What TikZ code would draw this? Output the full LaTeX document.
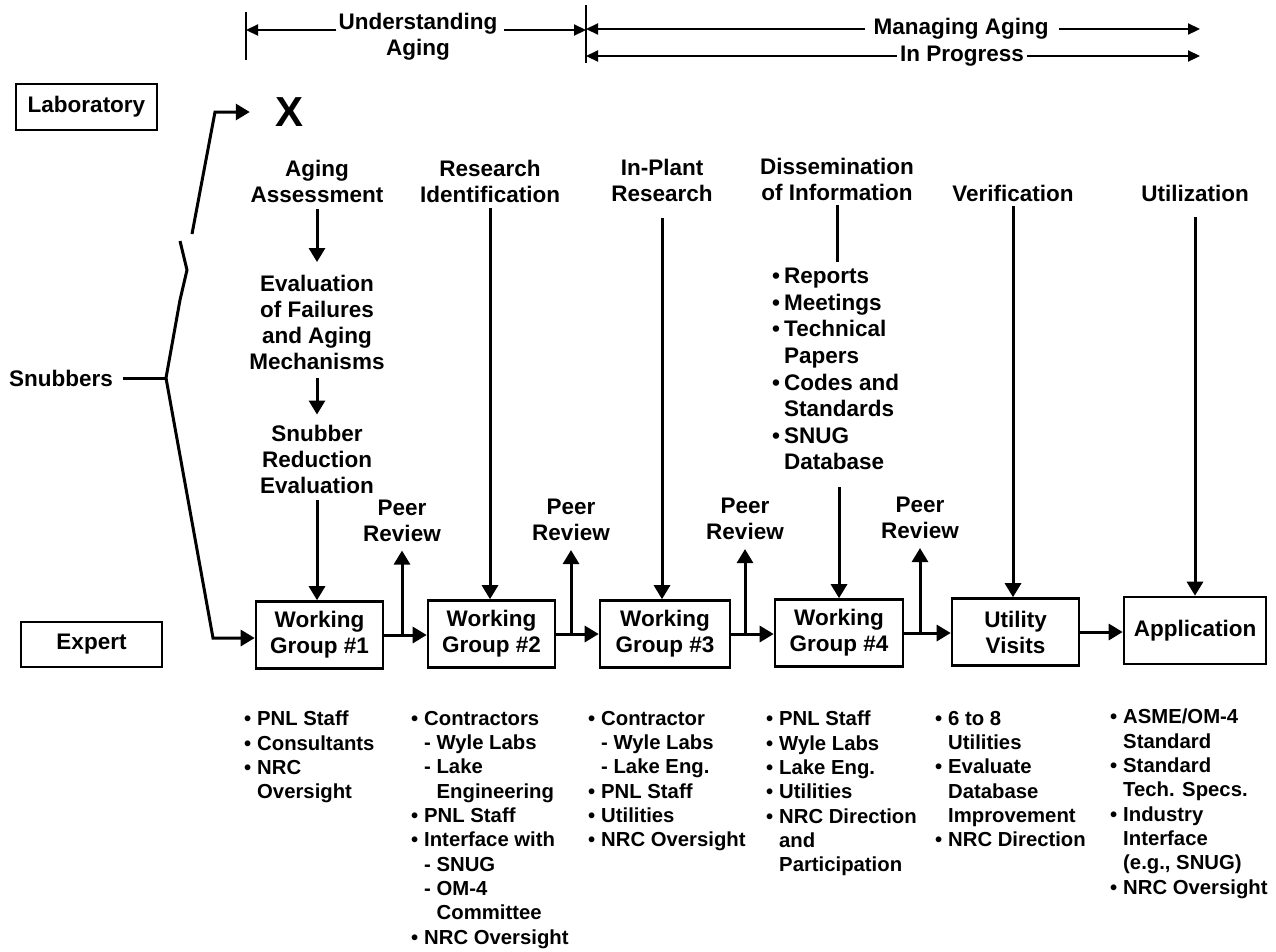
\documentclass[tikz,border=0pt]{standalone}
\usepackage{fontspec}
\setmainfont{Liberation Sans}
\usetikzlibrary{arrows.meta,calc}
\newcommand\lbul{\makebox[13pt][l]{•}}
\newcommand\lind{\hspace*{13pt}}
\newcommand\lsub{\hspace*{13pt}- }
\newcommand\lsubi{\hspace*{25.5pt}}
\begin{document}
\begin{tikzpicture}[x=1pt,y=-1pt,
  every node/.style={font=\bfseries\fontsize{22.5}{26}\selectfont, inner sep=0pt, align=center},
  ln/.style={line width=3pt},
  arr/.style={line width=3pt, -{Triangle[width=16pt,length=14pt]}},
  harr/.style={line width=2.2pt, -{Triangle[width=11pt,length=12pt]}},
  boxn/.style={draw, line width=2.6pt, minimum height=67pt, minimum width=127pt},
  lst/.style={font=\bfseries\fontsize{20.3}{24.3}\selectfont, align=left, anchor=north west},
]
\useasboundingbox (0,0) rectangle (1276,951);

% ---------- header ----------
\coordinate (lb1) at (246,12); \coordinate (lb2) at (246,60);
\draw[line width=2.2pt] (lb1) -- (lb2);
\coordinate (rb1) at (586,5); \coordinate (rb2) at (586,63);
\draw[line width=2.2pt] (rb1) -- (rb2);
\node (und) at (418,37) {Understanding\\Aging};
\coordinate (ua) at (336,30);
\draw[harr] (ua) -- (ua -| lb1);
\coordinate (ub) at (504,30);
\draw[harr] (ub) -- (ub -| rb1);
\coordinate (me) at (1200,30);
\node (ma) at (961,29) {Managing Aging};
\draw[harr, shorten <=8pt] (ma.west) -- (ma.west -| rb1);
\draw[harr, shorten <=10pt] (ma.east) -- (ma.east -| me);
\node (ip) at (962,56) {In Progress};
\draw[harr, shorten <=3pt] (ip.west) -- (ip.west -| rb1);
\draw[harr, shorten <=3pt] (ip.east) -- (ip.east -| me);

% ---------- left side ----------
\node[draw, line width=2.2pt, minimum width=141pt, minimum height=46pt] (lab) at (86.5,107) {Laboratory};
\node[draw, line width=2.2pt, minimum width=141pt, minimum height=45pt] (exp) at (91.5,644.5) {Expert};
\node (snub) at (61,378) {Snubbers};
\node[font=\bfseries\fontsize{42}{42}\selectfont] (X) at (290,112) {X};

\coordinate (br) at (166,378);
\draw[ln, shorten <=10pt] (snub.east) -- (br);
\coordinate (bt1) at (180,300);
\coordinate (bt2) at (187,270);
\coordinate (bt3) at (180,241);
\draw[ln] (br) -- (bt1) -- (bt2) -- (bt3);
\coordinate (ua1) at (192,234);
\coordinate (ua2) at (215,112);
\draw[arr, shorten >=26pt] (ua1) -- (ua2) -- (X.west);

% ---------- boxes ----------
\node[boxn] (wg1) at (319.5,635) {Working\\Group \#1};
\node[boxn] (wg2) at (491.5,634) {Working\\Group \#2};
\node[boxn, minimum width=130pt] (wg3) at (665,634) {Working\\Group \#3};
\node[boxn, minimum width=128pt] (wg4) at (839,633) {Working\\Group \#4};
\node[boxn] (uv) at (1015.5,632) {Utility\\Visits};
\node[boxn, minimum width=142pt] (app) at (1195,630.5) {Application};

\coordinate (bl) at (213,638);
\draw[arr] (br) -- (bl) -- (bl -| wg1.west);

\draw[arr] (wg1.east) -- (wg1.east -| wg2.west);
\draw[arr] (wg2.east) -- (wg2.east -| wg3.west);
\draw[arr] (wg3.east) -- (wg3.east -| wg4.west);
\draw[arr] (wg4.east) -- (wg4.east -| uv.west);
\draw[arr] (uv.east) -- (uv.east -| app.west);

% ---------- peer reviews ----------
\node (p1) at (402,520.5) {Peer\\Review};
\node (p2) at (571,520) {Peer\\Review};
\node (p3) at (745,519) {Peer\\Review};
\node (p4) at (920,518) {Peer\\Review};
\draw[arr, shorten >=9pt] (p1 |- wg1.east) -- (p1.south);
\draw[arr, shorten >=9pt] (p2 |- wg2.east) -- (p2.south);
\draw[arr, shorten >=9pt] (p3 |- wg3.east) -- (p3.south);
\draw[arr, shorten >=9pt] (p4 |- wg4.east) -- (p4.south);

% ---------- column 1 ----------
\node (h1) at (317,181) {Aging\\Assessment};
\node (e1) at (317,322.5) {Evaluation\\of Failures\\and Aging\\Mechanisms};
\node (e2) at (317,459) {Snubber\\Reduction\\Evaluation};
\draw[arr, shorten <=7pt, shorten >=13pt] (h1.south) -- (e1.north);
\draw[arr, shorten <=8pt, shorten >=10pt] (e1.south) -- (e2.north);
\draw[arr, shorten <=7pt] (e2.south) -- (e2.south |- wg1.north);

% ---------- columns 2-6 ----------
\node (h2) at (490,181) {Research\\Identification};
\draw[arr, shorten <=6pt] (h2.south) -- (h2.south |- wg2.north);
\node (h3) at (662,180) {In-Plant\\Research};
\draw[arr, shorten <=17pt] (h3.south) -- (h3.south |- wg3.north);
\node (h4) at (837,179.5) {Dissemination\\of Information};
\node[anchor=north west, align=left, font=\bfseries\fontsize{22.5}{26.6}\selectfont] (l4) at (772,268)
  {\makebox[12pt][l]{•}Reports\\ \makebox[12pt][l]{•}Meetings\\ \makebox[12pt][l]{•}Technical\\ \hspace*{12pt}Papers\\
   \makebox[12pt][l]{•}Codes and\\ \hspace*{12pt}Standards\\ \makebox[12pt][l]{•}SNUG\\ \hspace*{12pt}Database};
\draw[ln, shorten <=4pt, shorten >=6pt] (h4.south) -- (h4.south |- l4.north);
\draw[arr, shorten <=17pt] (wg4.north |- l4.south) -- (wg4.north);
\node (h5) at (1013,193) {Verification};
\draw[arr, shorten <=5pt] (h5.south) -- (h5.south |- uv.north);
\node (h6) at (1195,193) {Utilization};
\draw[arr, shorten <=16pt] (h6.south) -- (h6.south |- app.north);

% ---------- bottom lists ----------
\node[lst] (b1) at (244,711) {\lbul PNL Staff\\ \lbul Consultants\\ \lbul NRC\\ \lind Oversight};
\node[lst] (b2) at (411,711) {\lbul Contractors\\ \lsub Wyle Labs\\ \lsub Lake\\ \lsubi Engineering\\
  \lbul PNL Staff\\ \lbul Interface with\\ \lsub SNUG\\ \lsub OM-4\\ \lsubi Committee\\ \lbul NRC Oversight};
\node[lst] (b3) at (588,711) {\lbul Contractor\\ \lsub Wyle Labs\\ \lsub Lake Eng.\\ \lbul PNL Staff\\
  \lbul Utilities\\ \lbul NRC Oversight};
\node[lst] (b4) at (766,711) {\lbul PNL Staff\\ \lbul Wyle Labs\\ \lbul Lake Eng.\\ \lbul Utilities\\
  \lbul NRC Direction\\ \lind and\\ \lind Participation};
\node[lst] (b5) at (935,711) {\lbul 6 to 8\\ \lind Utilities\\ \lbul Evaluate\\ \lind Database\\
  \lind Improvement\\ \lbul NRC Direction};
\node[lst] (b6) at (1110,709) {\lbul ASME/OM-4\\ \lind Standard\\ \lbul Standard\\ \lind Tech. Specs.\\
  \lbul Industry\\ \lind Interface\\ \lind (e.g., SNUG)\\ \lbul NRC Oversight};
\end{tikzpicture}
\end{document}
